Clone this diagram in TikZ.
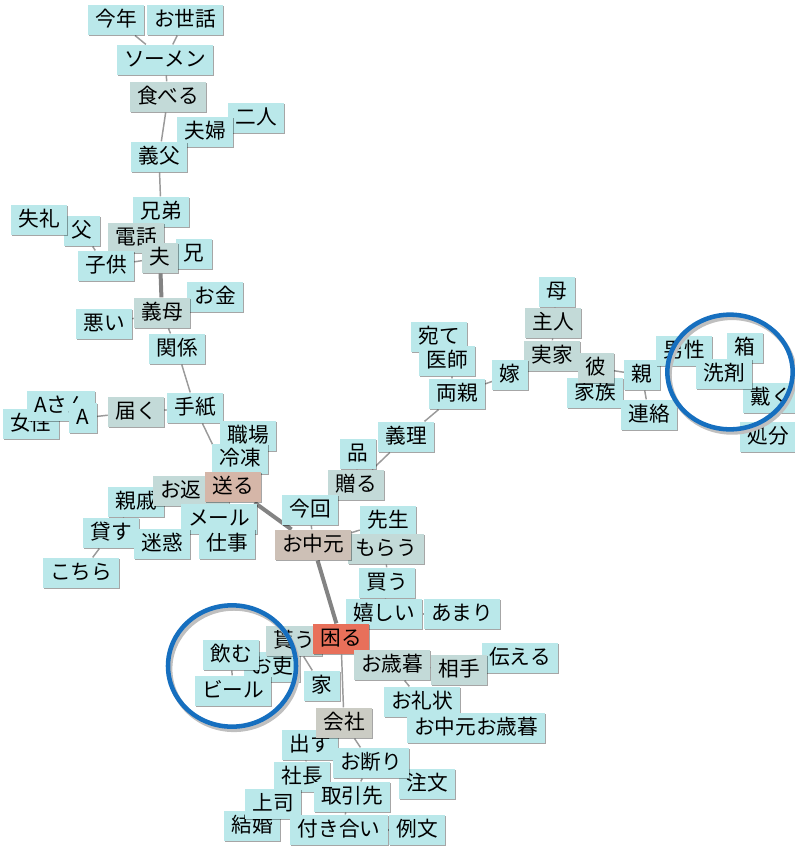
\documentclass[tikz,border=0pt]{standalone}
\usepackage{fontspec}
\setmainfont{Noto Sans CJK JP}
\usepackage{tikz}
\usetikzlibrary{shadows,backgrounds}

\definecolor{wordcyan}{HTML}{BAE8EA}
\definecolor{wordgray}{HTML}{C3DAD8}
\definecolor{wordbrown}{HTML}{CDC0B6}
\definecolor{wordrose}{HTML}{D5B6A8}
\definecolor{wordred}{HTML}{E8705A}
\definecolor{wordstone}{HTML}{CBCCC4}
\definecolor{edgegray}{HTML}{9A9A9A}
\definecolor{ringblue}{HTML}{166FBF}

\begin{document}
\begin{tikzpicture}[x=0.75pt,y=-0.75pt,
  term/.style={fill=wordcyan, font=\fontsize{15.5pt}{16pt}\selectfont,
    inner xsep=5.5pt, inner ysep=3.5pt, text height=13pt, text depth=3pt,
    drop shadow={shadow xshift=0.7pt,shadow yshift=-0.7pt,fill=black,opacity=0.35}},
  termgray/.style={term, fill=wordgray},
  termbrown/.style={term, fill=wordbrown},
  termrose/.style={term, fill=wordrose},
  termred/.style={term, fill=wordred},
  termstone/.style={term, fill=wordstone},
  link/.style={draw=edgegray, line width=1.1pt},
  heavy/.style={draw=edgegray!85!black, line width=3pt},
  ring/.style={draw=ringblue, line width=3.4pt},
  ringshade/.style={draw=black!25, line width=3.6pt}]
  \useasboundingbox (0,0) rectangle (795,850);

  % upper branch
  \node[term] (kotoshi) at (116,20) {今年};
  \node[term] (osewa) at (185,20) {お世話};
  \node[term] (somen) at (165,60) {ソーメン};
  \node[termgray] (taberu) at (168,97) {食べる};
  \node[term] (futari) at (256,118) {二人};
  \node[term] (fufu) at (205,132) {夫婦};
  \node[term] (gifu) at (159,157) {義父};
  \node[term] (kyodai) at (161,212) {兄弟};
  \node[term] (chichi) at (82,231) {父};
  \node[term] (shitsurei) at (39,220) {失礼};
  \node[termgray] (denwa) at (136,238) {電話};
  \node[term] (kodomo) at (106,266) {子供};
  \node[term] (ani) at (194,254) {兄};
  \node[termgray] (otto) at (160,258) {夫};
  \node[term] (okane) at (215,297) {お金};
  \node[term] (warui) at (104,324) {悪い};
  \node[termgray] (gibo) at (162,313) {義母};
  \node[term] (kankei) at (177,349) {関係};

  % left branch
  \node[term] (josei) at (31,424) {女性};
  \node[term] (asan) at (61,406) {Aさん};
  \node[term] (ahito) at (83,418) {A};
  \node[termgray] (todoku) at (136,412) {届く};
  \node[term] (tegami) at (195,408) {手紙};
  \node[term] (shokuba) at (248,436) {職場};
  \node[term] (reito) at (240,459) {冷凍};
  \node[term] (shinseki) at (136,502) {親戚};
  \node[termgray] (okaeshi) at (191,491) {お返し};
  \node[termrose] (okuru) at (233,487) {送る};
  \node[term] (meru) at (219,519) {メール};
  \node[term] (kasu) at (111,533) {貸す};
  \node[term] (meiwaku) at (162,544) {迷惑};
  \node[term] (shigoto) at (227,544) {仕事};
  \node[term] (kochira) at (81,573) {こちら};

  % centre
  \node[term] (giri) at (406,437) {義理};
  \node[term] (shina) at (358,454) {品};
  \node[termgray] (zoru) at (356,485) {贈る};
  \node[term] (konkai) at (310,510) {今回};
  \node[term] (sensei) at (388,521) {先生};
  \node[termgray] (morau) at (386,549) {もらう};
  \node[termbrown] (chugen) at (313,545) {お中元};
  \node[term] (kau) at (387,583) {買う};
  \node[term] (ureshii) at (384,614) {嬉しい};
  \node[term] (amari) at (462,614) {あまり};

  % lower branch
  \node[term] (oshi) at (272,667) {お吏};
  \node[termgray] (morau2) at (294,641) {貰う};
  \node[term] (nomu) at (231,655) {飲む};
  \node[term] (biru) at (233,691) {ビール};
  \node[termred] (komaru) at (341,639) {困る};
  \node[term] (ie) at (322,686) {家};
  \node[term] (tsutaeru) at (520,658) {伝える};
  \node[termgray] (aite) at (459,670) {相手};
  \node[termgray] (oseibo) at (392,665) {お歳暮};
  \node[term] (oreijo) at (422,702) {お礼状};
  \node[term] (chuseibo) at (476,728) {お中元お歳暮};
  \node[term] (dasu) at (310,745) {出す};
  \node[termstone] (kaisha) at (344,723) {会社};
  \node[term] (chumon) at (427,784) {注文};
  \node[term] (shacho) at (302,777) {社長};
  \node[term] (okotowari) at (371,763) {お断り};
  \node[term] (torihiki) at (352,797) {取引先};
  \node[term] (kekkon) at (252,826) {結婚};
  \node[term] (joshi) at (273,804) {上司};
  \node[term] (tsukiai) at (339,830) {付き合い};
  \node[term] (reibun) at (417,830) {例文};

  % right branch
  \node[term] (haha) at (557,292) {母};
  \node[termgray] (shujin) at (553,323) {主人};
  \node[term] (ate) at (439,337) {宛て};
  \node[term] (ishi) at (447,361) {医師};
  \node[termgray] (jikka) at (552,356) {実家};
  \node[term] (yome) at (510,375) {嫁};
  \node[term] (ryoshin) at (457,394) {両親};
  \node[term] (kazoku) at (595,393) {家族};
  \node[termgray] (kare) at (596,368) {彼};
  \node[term] (oya) at (642,375) {親};
  \node[term] (renraku) at (649,415) {連絡};
  \node[term] (dansei) at (684,351) {男性};
  \node[term] (hako) at (745,348) {箱};
  \node[term] (itadaku) at (771,398) {戴く};
  \node[term] (senzai) at (724,374) {洗剤};
  \node[term] (shobun) at (768,437) {処分};

  \begin{scope}[on background layer]
    \draw[link] (kotoshi) -- (somen);
    \draw[link] (osewa) -- (somen);
    \draw[link] (somen) -- (taberu);
    \draw[link] (taberu) -- (gifu);
    \draw[link] (futari) -- (fufu);
    \draw[link] (fufu) -- (gifu);
    \draw[link] (gifu) -- (kyodai);
    \draw[link] (kyodai) -- (otto);
    \draw[link] (denwa) -- (otto);
    \draw[link] (kodomo) -- (otto);
    \draw[link] (chichi) -- (kodomo);
    \draw[link] (shitsurei) -- (chichi);
    \draw[link] (ani) -- (otto);
    \draw[heavy] (otto) -- (gibo);
    \draw[link] (okane) -- (gibo);
    \draw[link] (warui) -- (gibo);
    \draw[link] (gibo) -- (kankei);
    \draw[link] (kankei) -- (tegami);
    \draw[link] (tegami) -- (todoku);
    \draw[link] (todoku) -- (ahito);
    \draw[link] (ahito) -- (asan);
    \draw[link] (asan) -- (josei);
    \draw[link] (tegami) -- (okuru);
    \draw[link] (shokuba) -- (okuru);
    \draw[link] (reito) -- (okuru);
    \draw[link] (okaeshi) -- (okuru);
    \draw[link] (shinseki) -- (okaeshi);
    \draw[link] (okuru) -- (meru);
    \draw[link] (meru) -- (shigoto);
    \draw[link] (meiwaku) -- (kasu);
    \draw[link] (shinseki) -- (kasu);
    \draw[link] (kasu) -- (kochira);
    \draw[heavy] (okuru) -- (chugen);
    \draw[link] (konkai) -- (chugen);
    \draw[link] (zoru) -- (konkai);
    \draw[link] (shina) -- (zoru);
    \draw[link] (zoru) -- (giri);
    \draw[link] (giri) -- (ryoshin);
    \draw[link] (ryoshin) -- (yome);
    \draw[link] (ate) -- (ishi);
    \draw[link] (ishi) -- (ryoshin);
    \draw[link] (yome) -- (jikka);
    \draw[link] (jikka) -- (shujin);
    \draw[link] (shujin) -- (haha);
    \draw[link] (jikka) -- (kare);
    \draw[link] (kare) -- (kazoku);
    \draw[link] (kare) -- (oya);
    \draw[link] (oya) -- (renraku);
    \draw[link] (oya) -- (dansei);
    \draw[link] (dansei) -- (senzai);
    \draw[link] (senzai) -- (hako);
    \draw[link] (senzai) -- (itadaku);
    \draw[link] (itadaku) -- (shobun);
    \draw[link] (chugen) -- (sensei);
    \draw[link] (chugen) -- (morau);
    \draw[link] (morau) -- (kau);
    \draw[link] (kau) -- (ureshii);
    \draw[link] (ureshii) -- (amari);
    \draw[heavy] (chugen) -- (komaru);
    \draw[link] (komaru) -- (morau2);
    \draw[link] (morau2) -- (ie);
    \draw[link] (morau2) -- (oshi);
    \draw[link] (nomu) -- (biru);
    \draw[link] (oshi) -- (nomu);
    \draw[link] (komaru) -- (kaisha);
    \draw[link] (komaru) -- (oseibo);
    \draw[link] (oseibo) -- (aite);
    \draw[link] (aite) -- (tsutaeru);
    \draw[link] (oseibo) -- (oreijo);
    \draw[link] (oreijo) -- (chuseibo);
    \draw[link] (kaisha) -- (dasu);
    \draw[link] (kaisha) -- (okotowari);
    \draw[link] (dasu) -- (shacho);
    \draw[link] (shacho) -- (joshi);
    \draw[link] (joshi) -- (kekkon);
    \draw[link] (okotowari) -- (chumon);
    \draw[link] (okotowari) -- (torihiki);
    \draw[link] (torihiki) -- (tsukiai);
    \draw[link] (tsukiai) -- (reibun);
  \end{scope}

  % highlight rings
  \draw[ringshade] (732,375) ellipse [x radius=47pt, y radius=43pt];
  \draw[ring] (730,372) ellipse [x radius=47pt, y radius=43pt];
  \draw[ringshade] (234,669) ellipse [x radius=48pt, y radius=45.5pt];
  \draw[ring] (232,666) ellipse [x radius=48pt, y radius=45.5pt];
\end{tikzpicture}
\end{document}
